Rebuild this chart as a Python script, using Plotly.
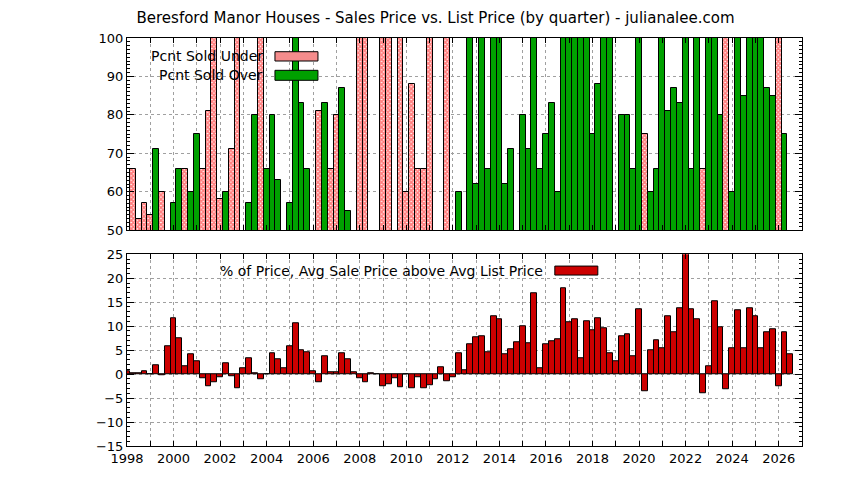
import plotly.graph_objects as go

# quarters from 1997 Q4 through 2026 Q2 (bars drawn at year + q/4)
quarters = [(y, q) for y in range(1997, 2027) for q in range(1, 5)][3:-2]

N = None
# Pcnt Sold Under (hatched red) - one value per quarter, None where no bar shows
pct_under = [N,
             66, 53, 57, 54,      # 1998
             N, 60, N, N,         # 1999
             N, 66, N, N,         # 2000
             66, 81, 100, 58,     # 2001
             N, 71, 100, N,       # 2002
             N, N, 100, N,        # 2003
             N, N, N, N,          # 2004
             N, N, N, N,          # 2005
             81, N, 66, 80,       # 2006
             N, N, N, 100,        # 2007
             100, N, N, 100,      # 2008
             100, N, 100, 60,     # 2009
             88, 66, 66, 100,     # 2010
             N, N, 100, N,        # 2011
             N, N, N, N,          # 2012
             N, N, N, N,          # 2013
             N, N, N, N,          # 2014
             N, N, N, N,          # 2015
             N, N, N, N,          # 2016
             N, N, N, N,          # 2017
             N, N, N, N,          # 2018
             N, N, N, N,          # 2019
             75, N, N, N,         # 2020
             N, N, N, N,          # 2021
             N, N, 66, N,         # 2022
             N, N, 100, N,        # 2023
             N, N, N, N,          # 2024
             N, N, N, 100,        # 2025
             N, N]                # 2026

# Pcnt Sold Over (green)
pct_over = [N,
            N, N, N, N,           # 1998
            71, N, N, 57,         # 1999
            66, N, 60, 75,        # 2000
            N, N, N, N,           # 2001
            60, N, N, N,          # 2002
            57, 80, N, 66,        # 2003
            80, 63, N, 57,        # 2004
            100, 83, 66, N,       # 2005
            N, 83, N, N,          # 2006
            87, 55, N, N,         # 2007
            N, N, N, N,           # 2008
            N, N, N, N,           # 2009
            N, N, N, N,           # 2010
            N, N, N, N,           # 2011
            60, N, 100, 62,       # 2012
            100, 66, 100, 100,    # 2013
            62, 71, N, 80,        # 2014
            71, 100, 66, 75,      # 2015
            83, 60, 100, 100,     # 2016
            100, 100, 100, 75,    # 2017
            88, 100, 100, N,      # 2018
            80, 80, 66, 100,      # 2019
            N, 60, 66, 100,       # 2020
            81, 87, 83, 100,      # 2021
            66, 100, N, 100,      # 2022
            100, 80, N, 60,       # 2023
            100, 85, 100, 100,    # 2024
            100, 87, 85, N,       # 2025
            75, N]                # 2026

# % of Price, Avg Sale Price above Avg List Price
pct_above = [0.55,
             0.2, 0.2, 0.6, 0,          # 1998
             1.9, -0.2, 5.8, 11.7,      # 1999
             7.45, 1.65, 4.1, 2.7,      # 2000
             -0.8, -2.5, -1.65, -0.6,   # 2001
             2.3, -0.4, -2.9, 1.2,      # 2002
             3.3, 0.2, -1.0, 0,         # 2003
             4.35, 3.1, 1.25, 5.8,      # 2004
             10.55, 5.0, 4.55, 0.6,     # 2005
             -1.65, 3.7, 0.3, 0.4,      # 2006
             4.35, 3.1, 0.4, -0.8,      # 2007
             -1.65, 0.2, 0, -2.5,       # 2008
             -2.05, -0.8, -2.7, -0.1,   # 2009
             -2.9, -0.6, -2.9, -2.3,    # 2010
             -1.0, 1.45, -1.45, -0.6,   # 2011
             4.35, 0.8, 6.2, 7.7,       # 2012
             8.0, 4.6, 12.1, 11.5,      # 2013
             4.2, 5.2, 6.7, 10.0,       # 2014
             6.45, 16.9, 1.25, 6.25,    # 2015
             6.9, 7.3, 17.9, 10.8,      # 2016
             11.5, 3.35, 11.0, 9.2,     # 2017
             11.7, 9.6, 4.4, 2.7,       # 2018
             7.9, 8.3, 3.75, 13.5,      # 2019
             -3.55, 5.0, 7.1, 5.4,      # 2020
             12.1, 8.75, 13.75, 26,     # 2021
             13.5, 11.5, -4.0, 1.65,    # 2022
             15.2, 9.8, -3.1, 5.4,      # 2023
             13.3, 5.4, 13.75, 12.1,    # 2024
             5.4, 8.75, 9.4, -2.5,      # 2025
             8.75, 4.2]                 # 2026

title_text = "Beresford Manor Houses - Sales Price vs. List Price (by quarter) - julianalee.com"
under_name = "Pcnt Sold Under"
over_name = "Pcnt Sold Over"
above_name = "% of Price, Avg Sale Price above Avg List Price"

xpos = [y + q / 4 for y, q in quarters]

fig = go.Figure()

fig.add_trace(go.Bar(
    x=xpos, y=pct_under, width=0.25, name=under_name,
    marker=dict(color="white",
                pattern=dict(shape="x", fgcolor="#ff0000", bgcolor="white", size=3, solidity=0.8),
                line=dict(color="black", width=1)),
    xaxis="x", yaxis="y", showlegend=False))

fig.add_trace(go.Bar(
    x=xpos, y=pct_over, width=0.25, name=over_name,
    marker=dict(color="#00a000", line=dict(color="black", width=1)),
    xaxis="x", yaxis="y", showlegend=False))

fig.add_trace(go.Bar(
    x=xpos, y=pct_above, width=0.25, name=above_name,
    marker=dict(color="#cc0000", line=dict(color="black", width=1)),
    xaxis="x2", yaxis="y2", showlegend=False))

grid = dict(showgrid=True, gridcolor="#a0a0a0", griddash="dot", gridwidth=1)
frame = dict(showline=True, linecolor="black", linewidth=1, mirror="allticks",
             ticks="inside", tickcolor="black", zeroline=False)

xcommon = dict(range=[1998, 2027], tick0=1998, dtick=2, ticklen=5,
               minor=dict(dtick=1, ticks="inside", ticklen=5, tickcolor="black",
                          showgrid=True, gridcolor="#a0a0a0", griddash="dot"),
               **grid, **frame)

# the page body adds an 8px offset, so the figure is sized to fit inside the window
fig.update_layout(
    width=836, height=472,
    margin=dict(l=119, r=42, t=30, b=34),
    paper_bgcolor="white", plot_bgcolor="white",
    font=dict(family="DejaVu Sans", size=13, color="black"),
    barmode="overlay", bargap=0,
    title=dict(text=title_text, x=0.5114, xanchor="center", y=1 - 10 / 472, yanchor="middle",
               font=dict(size=15)),
    xaxis=dict(domain=[0, 1], anchor="y", showticklabels=False, **xcommon),
    xaxis2=dict(domain=[0, 1], anchor="y2", **xcommon),
    yaxis=dict(domain=[0.529, 1], anchor="x", range=[50, 100], dtick=10, ticklen=7,
               minor=dict(dtick=1, ticks="inside", ticklen=3, tickcolor="black"),
               **grid, **frame),
    yaxis2=dict(domain=[0, 0.47], anchor="x2", range=[-15, 25], dtick=5, ticklen=7,
                minor=dict(dtick=1, ticks="inside", ticklen=3, tickcolor="black"),
                **grid, **frame),
)

# gnuplot-style key: text right aligned, sample box to the right
keys = [
    (under_name, 0.2044, 0.955, 0.9436, 0.9664, "#f58c8c"),
    (over_name, 0.2044, 0.9086, 0.8963, 0.9208, "#00a000"),
    (above_name, 0.619, 0.430, 0.419, 0.441, "#cc0000"),
]
for text, tx, ty, y0, y1, col in keys:
    fig.add_annotation(text=text, x=tx, y=ty, xref="paper", yref="paper",
                       xanchor="right", yanchor="middle", showarrow=False,
                       font=dict(size=14, color="black"))
    fig.add_shape(type="rect", xref="paper", yref="paper",
                  x0=tx + 0.0148, x1=tx + 0.0785, y0=y0, y1=y1,
                  fillcolor=col, line=dict(color="black", width=1))

fig.write_html("out.html")
